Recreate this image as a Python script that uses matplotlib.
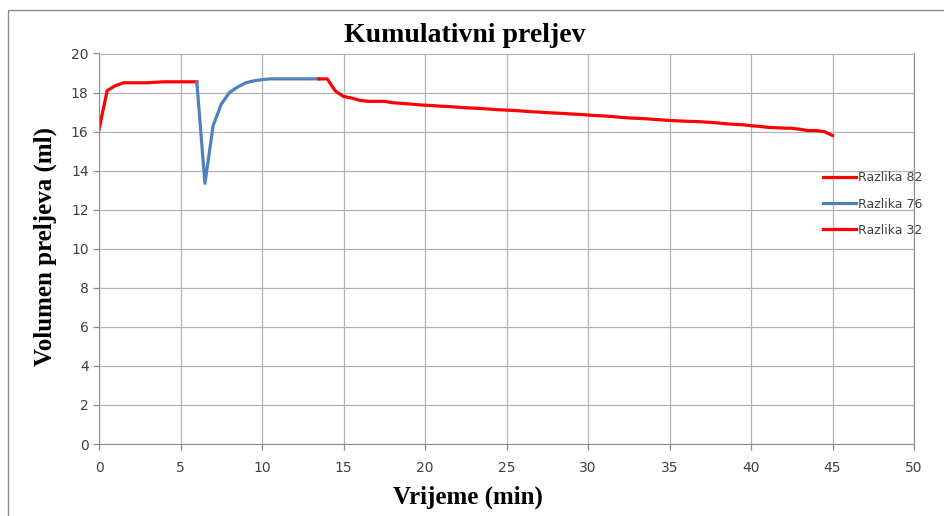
import matplotlib
matplotlib.use("Agg")
import matplotlib.pyplot as plt
from matplotlib.patches import Rectangle

# Data
x82 = [0, 0.5, 1, 1.5, 2, 2.5, 3, 3.5, 4, 4.5, 5, 5.5, 6]
y82 = [16.1, 18.1, 18.35, 18.5, 18.5, 18.5, 18.5, 18.53, 18.55, 18.55, 18.55, 18.55, 18.55]

x76 = [6, 6.5, 7, 7.5, 8, 8.5, 9, 9.5, 10, 10.5, 11, 11.5, 12, 12.5, 13, 13.5]
y76 = [18.55, 13.35, 16.3, 17.4, 18.0, 18.28, 18.5, 18.6, 18.66, 18.7, 18.7, 18.7, 18.7, 18.7, 18.7, 18.7]

x32 = [13.5, 14, 14.5, 15, 15.5, 16, 16.5, 17, 17.5, 18, 18.5, 19, 19.5, 20, 20.5,
       21, 21.5, 22, 22.5, 23, 23.5, 24, 24.5, 25, 25.5, 26, 26.5, 27, 27.5, 28,
       28.5, 29, 29.5, 30, 30.5, 31, 31.5, 32, 32.5, 33, 33.5, 34, 34.5, 35, 35.5,
       36, 36.5, 37, 37.5, 38, 38.5, 39, 39.5, 40, 40.5, 41, 41.5, 42, 42.5, 43,
       43.5, 44, 44.5, 45]
y32 = [18.7, 18.7, 18.08, 17.8, 17.72, 17.6, 17.55, 17.55, 17.55, 17.48, 17.45, 17.42, 17.38, 17.35, 17.33,
       17.3, 17.28, 17.25, 17.22, 17.2, 17.18, 17.15, 17.12, 17.1, 17.08, 17.05, 17.02, 17.0, 16.97, 16.95,
       16.93, 16.9, 16.88, 16.85, 16.82, 16.8, 16.77, 16.73, 16.7, 16.68, 16.66, 16.63, 16.6, 16.57, 16.55,
       16.53, 16.52, 16.5, 16.47, 16.44, 16.4, 16.37, 16.35, 16.3, 16.27, 16.22, 16.2, 16.18, 16.17, 16.12,
       16.05, 16.05, 16.0, 15.8]

labels = ["Razlika 82", "Razlika 76", "Razlika 32"]
xticks = [0, 5, 10, 15, 20, 25, 30, 35, 40, 45, 50]
yticks = [0, 2, 4, 6, 8, 10, 12, 14, 16, 18, 20]

W, H = 944, 516
fig = plt.figure(figsize=(W / 100, H / 100), dpi=100)
fig.patches.append(Rectangle((8 / W, -0.1), 1.1, 1 - 10 / H + 0.1, transform=fig.transFigure,
                             fill=False, edgecolor="#8c8c8c", linewidth=1.0))
ax = fig.add_axes([99 / W, 1 - 444 / H, (914 - 99) / W, (444 - 53.5) / H])

red = "#FF0000"
blue = "#4F81BD"
lw = 2.3
ax.plot(x82, y82, color=red, lw=lw, label=labels[0], solid_joinstyle="round")
ax.plot(x76, y76, color=blue, lw=lw, label=labels[1], solid_joinstyle="round")
ax.plot(x32, y32, color=red, lw=lw, label=labels[2], solid_joinstyle="round")

ax.set_xlim(0, 50)
ax.set_ylim(0, 20)
ax.set_xticks(xticks)
ax.set_yticks(yticks)
ax.grid(True, color="#b3b3b3", linewidth=0.9)
ax.set_axisbelow(True)
ax.spines["top"].set_color("#b3b3b3")
for s in ["left", "bottom", "right"]:
    ax.spines[s].set_color("#8c8c8c")
tickfont = ["Liberation Sans Narrow", "DejaVu Sans"]
ax.tick_params(axis="both", colors="#8c8c8c", length=4, width=0.9, labelcolor="#404040",
               labelsize=10)
ax.tick_params(axis="x", pad=8)
for lab in ax.get_xticklabels() + ax.get_yticklabels():
    lab.set_family(tickfont)

fig.text(465 / W, 1 - 36 / H, "Kumulativni preljev", ha="center", va="center",
         family="Liberation Serif", fontweight="bold", fontsize=20)
fig.text(468 / W, 1 - 497 / H, "Vrijeme (min)", ha="center", va="center",
         family="Liberation Serif", fontweight="bold", fontsize=18)
fig.text(45 / W, 1 - 246 / H, "Volumen preljeva (ml)", ha="center", va="center",
         rotation=90, family="Liberation Serif", fontweight="bold", fontsize=18)

leg = ax.legend(loc="center left", bbox_to_anchor=(812 / W, 1 - 204 / H),
                bbox_transform=fig.transFigure, frameon=False,
                prop={"family": tickfont, "size": 9},
                handlelength=2.6, handletextpad=0.2, labelspacing=1.05)
for t in leg.get_texts():
    t.set_color("#404040")

fig.savefig("out.png", dpi=100)
